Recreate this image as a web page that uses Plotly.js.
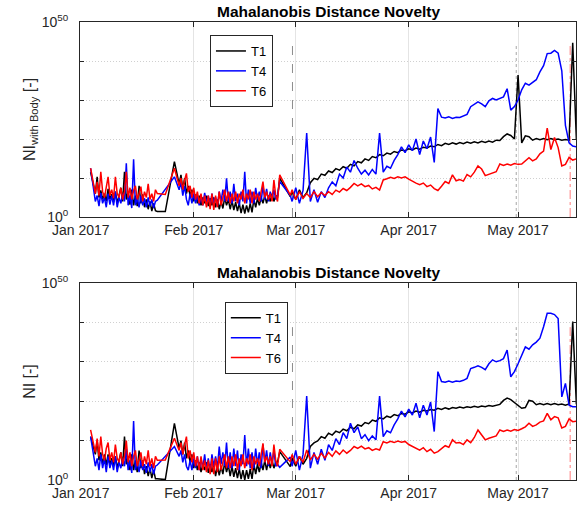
<!DOCTYPE html>
<html>
<head>
<meta charset="utf-8">
<script src="https://cdn.plot.ly/plotly-3.0.1.min.js"></script>
<style>html,body{margin:0;padding:0;background:#fff;}#chart{width:582px;height:506px;}</style>
</head>
<body>
<div id="chart"></div>
<script>
// Sample times: days after 2017-01-01 00:00
const sampleDays = [
  2.7, 3.5, 4, 4.5, 5, 5.5, 6, 6.5, 7, 7.5, 8, 8.5, 9, 9.5, 10, 10.5, 11, 11.5, 12, 12.5,
  13, 13.5, 14, 14.5, 15, 15.5, 16, 16.5, 17, 17.5, 18, 18.5, 19, 19.5, 20, 20.5, 21,
  23.2, 25.7,
  27, 27.5, 28, 28.5, 29, 29.5, 30, 30.5, 31, 31.5, 32, 32.5, 33, 33.5, 34, 34.5, 35, 35.5, 36, 36.5,
  37, 37.5, 38, 38.5, 39, 39.5, 40, 40.5, 41, 41.5, 42, 42.5, 43, 43.5, 44, 44.5, 45, 45.5, 46, 46.5,
  47, 47.5, 48, 48.5, 49, 49.5, 50, 50.5, 51, 51.5, 52, 52.5, 53, 53.5, 54,
  54.6, 57.5,
  58, 59, 60, 61, 62, 63, 64, 65, 66, 67,
  68, 69, 70, 71, 72, 73, 74, 75, 76, 77,
  78, 79, 80, 81, 82, 83, 84, 85, 86, 87,
  88, 89, 90, 91, 92, 93, 94, 95, 96, 97,
  98, 99, 100, 101, 102, 103, 104, 105, 106, 107,
  108, 109, 110, 111, 112, 113, 114, 115, 116, 117,
  118, 119, 120, 121, 122, 123, 124, 125, 126, 127,
  128, 129, 130, 131, 132, 133, 134, 135, 136
];

// Novelty index values, given as exponents (log10 of NI)
// Upper panel: NI with Body
const t1WithBodyExp = [
  11.5, 8.0, 6.0, 10.3, 5.0, 6.8, 4.5, 6.0, 4.0, 7.2, 4.6, 5.8, 3.8, 6.5, 3.5, 5.5, 7.5, 4.0, 11.6, 4.5,
  6.5, 3.2, 7.0, 3.0, 5.5, 2.8, 8.0, 3.5, 5.8, 2.5, 4.5, 2.0, 4.0, 1.5, 3.5, 1.6, 1.4,
  1.4, 14.2,
  8.5, 10.8, 7.0, 10.0, 6.0, 8.0, 5.5, 7.0, 4.0, 5.8, 3.5, 5.5, 3.0, 5.0, 3.5, 5.5, 2.8, 4.8, 3.0, 5.0,
  2.5, 4.5, 2.0, 4.0, 2.2, 5.0, 3.0, 4.5, 2.0, 4.2, 1.8, 3.8, 1.5, 3.5, 1.0, 3.2, 0.9, 3.0, 1.2, 3.5,
  1.2, 4.5, 2.5, 4.8, 3.0, 5.0, 3.5, 5.5, 3.5, 5.5, 4.0, 6.0, 4.0, 5.5, 5.2,
  10.0, 5.2,
  6.5, 4.5, 7.0, 5.0, 6.2, 8.8, 9.9, 9.6, 11.0, 10.7,
  11.8, 11.4, 12.4, 12.0, 12.9, 12.5, 13.5, 13.1, 14.2, 13.9,
  14.9, 14.5, 15.5, 15.2, 16.0, 15.7, 16.4, 16.1, 16.8, 16.5,
  17.2, 17.0, 17.5, 17.2, 17.7, 17.4, 17.9, 17.7, 18.2, 18.0,
  18.6, 18.3, 18.9, 18.6, 19.0, 18.7, 19.1, 18.8, 19.2, 18.9,
  19.3, 19.0, 19.4, 19.1, 19.5, 19.2, 19.7, 19.6, 20.6, 21.3,
  20.9, 20.0, 36.4, 19.0, 20.8, 20.6, 19.7, 20.1, 19.8, 20.1,
  19.8, 20.1, 19.8, 20.0, 19.7, 19.9, 19.7, 44.7, 19.9
];
const t4WithBodyExp = [
  12.5, 6.5, 4.0, 5.5, 2.8, 6.2, 3.5, 5.0, 2.5, 6.0, 3.2, 5.5, 3.0, 6.5, 2.5, 5.0, 3.5, 6.0, 4.0, 13.8,
  3.0, 5.5, 2.3, 14.8, 3.0, 5.0, 2.5, 5.5, 3.0, 4.8, 2.5, 5.0, 2.8, 4.5, 2.3, 4.0, 4.3,
  null, 10.3,
  7.0, 9.0, 5.5, 8.0, 4.5, 3.0, 6.0, 3.5, 6.0, 3.5, 5.5, 3.0, 5.5, 3.0, 6.2, 3.5, 5.5, 2.8, 6.0, 3.5,
  5.0, 2.8, 6.5, 4.0, 7.0, 4.0, 9.9, 4.0, 6.5, 3.5, 8.5, 4.0, 6.0, 3.0, 6.5, 4.0, 11.6, 3.5, 7.0, 3.5,
  6.5, 3.5, 7.5, 4.5, 6.5, 4.0, 8.0, 4.5, 7.2, 4.0, 6.5, 4.5, 7.0, 4.5, 5.5,
  9.1, 5.5,
  4.0, 7.5, 3.5, 6.8, 21.5, 4.0, 7.0, 3.8, 6.5, 5.0,
  7.5, 9.0, 8.0, 11.0, 10.0, 12.8, 11.5, 14.5, 12.5, 11.0,
  12.0, 10.8, 12.2, 11.0, 21.5, 11.5, 13.0, 12.5, 14.5, 16.0,
  18.0, 16.5, 18.5, 17.0, 20.0, 16.0, 19.5, 17.5, 20.5, 14.0,
  27.8, 25.6, 25.4, 25.7, 25.3, 25.6, 25.5, 25.9, 26.3, 28.3,
  28.8, 29.5, 29.0, 28.3, 29.8, 30.4, 30.0, 30.3, 30.8, 32.9,
  27.4, 28.3, 30.0, 32.6, 34.3, 33.8, 34.5, 35.2, 37.2, 38.8,
  41.9, 42.0, 42.7, 42.0, 37.5, 23.5, 19.0, 18.2, 18.0
];
const t6WithBodyExp = [
  12.5, 8.5, 6.0, 9.0, 5.5, 11.6, 6.5, 5.0, 8.0, 10.3, 5.5, 7.0, 4.8, 10.3, 6.0, 5.0, 7.5, 4.5, 6.5, 11.6,
  5.0, 7.5, 4.5, 6.8, 8.0, 4.5, 6.0, 7.8, 4.0, 6.5, 5.0, 8.5, 4.5, 6.0, 4.0, 7.0, 6.0,
  5.8, 12.5,
  8.0, 10.0, 7.0, 9.5, 11.2, 6.5, 8.0, 5.0, 7.5, 4.5, 6.5, 3.5, 6.0, 3.0, 5.5, 2.5, 5.5, 2.0, 6.0, 1.8,
  5.5, 2.5, 6.5, 3.0, 5.0, 7.0, 4.0, 6.5, 3.5, 6.0, 4.0, 6.5, 3.5, 6.0, 4.5, 7.0, 3.5, 6.0, 4.5, 7.0,
  3.5, 6.5, 4.5, 6.0, 4.0, 6.5, 9.1, 5.0, 6.5, 4.5, 6.0, 4.0, 9.5, 5.5, 4.0,
  10.8, 5.6,
  7.0, 4.5, 6.5, 4.8, 6.0, 5.0, 6.5, 5.2, 6.3, 5.5,
  6.5, 5.8, 6.9, 6.4, 7.3, 6.8, 7.6, 8.6, 8.0, 8.5,
  7.8, 8.1, 7.2, 7.6, 6.9, 9.5, 9.8, 10.2, 9.9, 10.3,
  10.0, 10.3, 9.7, 9.1, 8.7, 8.3, 8.7, 7.8, 8.2, 7.3,
  6.8, 7.9, 9.1, 8.6, 10.8, 9.3, 9.6, 9.2, 10.9, 10.3,
  11.5, 13.1, 12.3, 10.6, 11.0, 11.4, 11.6, 13.6, 13.2, 13.6,
  13.3, 13.7, 13.5, 13.6, 14.3, 15.2, 14.4, 14.9, 16.2, 16.9,
  22.8, 17.3, 20.4, 17.8, 13.1, 13.5, 15.3, 14.6, 14.9
];
// Lower panel: NI
const t1Exp = [
  11.0, 8.5, 6.5, 10.0, 5.0, 7.0, 4.0, 6.5, 3.8, 6.5, 4.0, 5.5, 3.5, 6.0, 3.0, 5.0, 7.0, 3.5, 11.0, 4.0,
  6.0, 2.5, 6.5, 2.5, 5.0, 2.0, 7.5, 3.0, 5.0, 1.5, 3.5, 1.0, 3.0, 0.5, 2.5, 0.3, 0.3,
  0.1, 14.4,
  8.0, 10.0, 6.5, 9.5, 5.5, 7.5, 4.5, 6.5, 3.0, 5.0, 2.5, 4.5, 2.0, 4.0, 2.5, 4.5, 1.8, 4.0, 2.0, 4.0,
  1.0, 3.5, 1.2, 3.5, 1.5, 4.5, 2.0, 3.8, 1.0, 3.5, 0.8, 3.0, 0.5, 2.8, 0.2, 2.5, 0.0, 2.5, 0.3, 2.8,
  0.3, 4.0, 1.5, 4.0, 2.0, 4.5, 2.5, 5.0, 2.5, 5.0, 3.0, 5.0, 3.0, 4.5, 4.5,
  7.2, 3.4,
  5.5, 3.5, 6.0, 4.0, 5.5, 8.5, 9.4, 9.9, 11.0, 10.6,
  11.9, 11.4, 12.4, 12.0, 12.9, 12.5, 13.4, 13.0, 14.0, 13.7,
  14.6, 14.3, 15.2, 14.9, 15.8, 15.5, 16.2, 15.9, 16.6, 16.3,
  16.9, 16.7, 17.3, 17.0, 17.5, 17.2, 17.7, 17.5, 17.9, 17.7,
  18.2, 17.9, 18.3, 18.0, 18.4, 18.2, 18.5, 18.3, 18.6, 18.4,
  18.7, 18.5, 18.8, 18.6, 18.9, 18.7, 19.0, 19.2, 20.2, 20.8,
  20.4, 19.6, 19.0, 18.2, 18.4, 20.2, 20.0, 19.1, 19.4, 19.1,
  19.4, 19.1, 19.4, 19.1, 19.3, 19.0, 19.3, 40.2, 19.2
];
const t4Exp = [
  11.0, 6.0, 3.5, 5.5, 2.5, 6.5, 3.0, 5.5, 2.0, 6.0, 3.0, 5.0, 2.5, 6.0, 2.0, 4.5, 3.0, 5.5, 3.5, 8.0,
  2.5, 5.0, 1.8, 15.0, 2.5, 4.5, 2.0, 5.0, 2.5, 4.0, 1.8, 4.5, 2.0, 4.0, 1.5, 3.5, 3.8,
  null, 8.5,
  6.0, 7.5, 4.5, 6.5, 3.5, 2.5, 5.0, 2.5, 5.5, 3.0, 6.0, 2.5, 5.5, 3.0, 6.5, 2.5, 5.5, 2.0, 6.5, 3.5,
  6.0, 3.0, 8.5, 4.0, 7.0, 3.5, 9.5, 3.0, 7.0, 3.0, 8.0, 3.5, 7.5, 2.5, 6.5, 4.0, 11.4, 3.5, 8.0, 3.0,
  7.0, 3.0, 8.0, 4.0, 7.0, 3.0, 9.0, 4.5, 7.5, 3.5, 7.0, 4.0, 7.5, 3.5, 4.0,
  3.2, 5.8,
  3.5, 7.5, 2.5, 6.5, 21.3, 3.0, 7.0, 4.0, 7.8, 5.0,
  9.0, 7.5, 10.5, 9.0, 12.0, 10.5, 14.4, 12.0, 13.5, 10.5,
  11.5, 10.0, 11.2, 10.2, 21.3, 11.0, 12.5, 12.0, 14.0, 15.5,
  17.5, 16.0, 18.0, 16.5, 19.5, 15.8, 19.0, 16.5, 19.8, 12.3,
  27.5, 25.0, 24.8, 25.1, 24.8, 25.1, 25.0, 25.3, 25.8, 28.3,
  28.6, 29.0, 28.6, 28.0, 29.5, 30.5, 30.0, 30.3, 30.8, 33.0,
  26.2, 27.5, 29.5, 31.5, 33.8, 33.2, 34.3, 35.0, 36.0, 38.9,
  42.3, 42.3, 42.0, 41.0, 21.1, 24.5, 19.0, 18.6, 18.6
];
const t6Exp = [
  12.7, 9.0, 7.0, 10.5, 6.0, 11.0, 6.5, 5.0, 8.0, 9.5, 5.0, 7.0, 4.5, 9.0, 5.5, 4.5, 7.0, 4.0, 6.0, 10.0,
  4.5, 7.0, 3.5, 6.0, 7.5, 3.5, 5.5, 7.0, 3.5, 6.0, 4.0, 7.5, 3.5, 5.5, 3.0, 6.0, 5.0,
  5.1, 10.6,
  7.5, 9.5, 6.5, 9.0, 11.0, 5.5, 7.5, 4.5, 7.0, 3.5, 6.0, 2.5, 6.0, 2.5, 5.0, 2.0, 5.0, 1.5, 5.5, 1.5,
  5.5, 2.0, 6.0, 2.5, 4.5, 6.5, 3.0, 6.0, 3.0, 6.0, 3.5, 6.5, 2.5, 5.5, 3.5, 6.5, 3.0, 5.5, 4.0, 6.5,
  2.5, 6.0, 4.0, 5.5, 3.5, 6.0, 9.3, 4.5, 6.0, 4.0, 6.0, 3.5, 9.0, 5.0, 3.5,
  7.8, 4.6,
  6.5, 4.0, 6.0, 4.5, 7.6, 5.1, 6.5, 5.3, 6.8, 5.6,
  7.0, 6.0, 7.4, 6.5, 7.6, 6.8, 7.5, 8.5, 8.0, 8.6,
  7.9, 8.2, 7.5, 7.9, 7.6, 9.7, 9.4, 9.8, 9.5, 9.9,
  9.6, 9.8, 9.0, 8.5, 8.0, 7.6, 8.2, 7.2, 7.8, 6.8,
  7.2, 8.0, 8.7, 8.3, 10.2, 9.4, 9.5, 9.0, 10.2, 9.5,
  10.8, 12.7, 11.5, 10.2, 10.6, 10.9, 11.2, 12.7, 12.3, 12.7,
  12.4, 12.8, 12.6, 13.0, 13.5, 14.4, 13.6, 14.0, 14.7, 15.0,
  16.9, 15.3, 16.1, 15.8, 13.2, 13.6, 15.5, 14.8, 14.9
];

// Event markers (days after 2017-01-01) and their heights (exponents)
const eventDays = [58.1, 119.5, 134.3];
const eventTopExp = 44.5;
const eventBottomExp = 38.8;

const seriesNames = ['T1', 'T4', 'T6'];
const monthTicks = ['2017-01-01', '2017-02-01', '2017-03-01', '2017-04-01', '2017-05-01'];
const monthLabels = ['Jan 2017', 'Feb 2017', 'Mar 2017', 'Apr 2017', 'May 2017'];
const yTickExp = [0, 10, 20, 30, 40, 50];
const yTickLabels = ['10<sup>0</sup>', '', '', '', '', '10<sup>50</sup>'];

// ---- build ----
[t1WithBodyExp, t4WithBodyExp, t6WithBodyExp, t1Exp, t4Exp, t6Exp].forEach((a, i) => {
  if (a.length !== sampleDays.length) throw new Error('length mismatch in series ' + i + ': ' + a.length + ' vs ' + sampleDays.length);
});

function dayToDate(d) {
  return new Date(Date.UTC(2017, 0, 1) + d * 86400000).toISOString().replace('T', ' ').replace('Z', '');
}
const pow10 = v => (v === null ? null : Math.pow(10, v));
const xDates = sampleDays.map(dayToDate);
const colors = ['#000000', '#0000ff', '#ff0000'];

const eventStyles = [
  {color: '#8c8c8c', dash: 'dash', width: 1},
  {color: '#a6a6a6', dash: 'dot', width: 1},
  {color: 'rgba(255,80,80,0.75)', dash: 'dashdot', width: 1}
];

const traces = [];
function addEvents(xa, ya, topExp) {
  eventDays.forEach((d, i) => {
    traces.push({
      x: [dayToDate(d), dayToDate(d)], y: [1, pow10(topExp)],
      xaxis: xa, yaxis: ya, mode: 'lines', line: eventStyles[i],
      showlegend: false, hoverinfo: 'skip'
    });
  });
}
addEvents('x', 'y', eventTopExp);
addEvents('x2', 'y2', eventBottomExp);

[t1WithBodyExp, t4WithBodyExp, t6WithBodyExp].forEach((a, i) => {
  traces.push({
    x: xDates, y: a.map(pow10), name: seriesNames[i], xaxis: 'x', yaxis: 'y',
    legend: 'legend', mode: 'lines', connectgaps: true,
    line: {color: colors[i], width: 1.5}
  });
});
[t1Exp, t4Exp, t6Exp].forEach((a, i) => {
  traces.push({
    x: xDates, y: a.map(pow10), name: seriesNames[i], xaxis: 'x2', yaxis: 'y2',
    legend: 'legend2', mode: 'lines', connectgaps: true,
    line: {color: colors[i], width: 1.5}
  });
});

const axisCol = '#262626';
const xRange = ['2016-12-31 19:00', '2017-05-16 21:36'];
function xAxis(anchor) {
  return {
    anchor: anchor, type: 'date', range: xRange, domain: [0, 1],
    tickmode: 'array', tickvals: monthTicks, ticktext: monthLabels,
    ticks: 'inside', ticklen: 5, tickcolor: axisCol, tickwidth: 1,
    showline: true, linecolor: axisCol, linewidth: 1, mirror: 'ticks',
    showgrid: true, gridcolor: '#e4e4e4', gridwidth: 1, zeroline: false,
    tickfont: {size: 14, color: axisCol}, ticklabelstandoff: 0, fixedrange: true
  };
}
function yAxis(anchor, domain, title) {
  return {
    anchor: anchor, type: 'log', range: [0, 50], domain: domain,
    tickmode: 'array', tickvals: yTickExp.map(pow10), ticktext: yTickLabels,
    ticks: 'inside', ticklen: 4, tickcolor: axisCol, tickwidth: 1,
    showline: true, linecolor: axisCol, linewidth: 1, mirror: 'ticks',
    showgrid: true, gridcolor: '#d0d0d0', griddash: '1px,2px', gridwidth: 1, zeroline: false,
    tickfont: {size: 14, color: axisCol}, ticklabelstandoff: 8,
    title: {text: title, font: {size: 16, color: axisCol}, standoff: 2}, fixedrange: true
  };
}

const legendBase = {
  xanchor: 'left', yanchor: 'top', bgcolor: '#ffffff', bordercolor: axisCol, borderwidth: 1,
  font: {size: 13, color: '#000'}, itemwidth: 30, tracegroupgap: 0
};

const layout = {
  width: 582, height: 506,
  margin: {l: 80, r: 6, t: 22, b: 26},
  paper_bgcolor: '#ffffff', plot_bgcolor: '#ffffff',
  font: {family: 'Liberation Sans, Arial, Helvetica, sans-serif', size: 14, color: axisCol},
  showlegend: true,
  xaxis: xAxis('y'),
  yaxis: yAxis('x', [0.5742, 1], 'NI<sub>with Body</sub> [-]'),
  xaxis2: xAxis('y2'),
  yaxis2: yAxis('x2', [0, 0.4301], 'NI [-]'),
  legend: Object.assign({x: 0.262, y: 0.9716}, legendBase),
  legend2: Object.assign({x: 0.292, y: 0.389}, legendBase),
  annotations: [
    {text: '<b>Mahalanobis Distance Novelty</b>', xref: 'paper', yref: 'paper', x: 0.5, y: 1.024,
     xanchor: 'center', yanchor: 'middle', showarrow: false, font: {size: 15.5, color: '#000'}},
    {text: '<b>Mahalanobis Distance Novelty</b>', xref: 'paper', yref: 'paper', x: 0.5, y: 0.4531,
     xanchor: 'center', yanchor: 'middle', showarrow: false, font: {size: 15.5, color: '#000'}}
  ]
};

Plotly.newPlot('chart', traces, layout, {displayModeBar: false, staticPlot: true});
</script>
</body>
</html>
